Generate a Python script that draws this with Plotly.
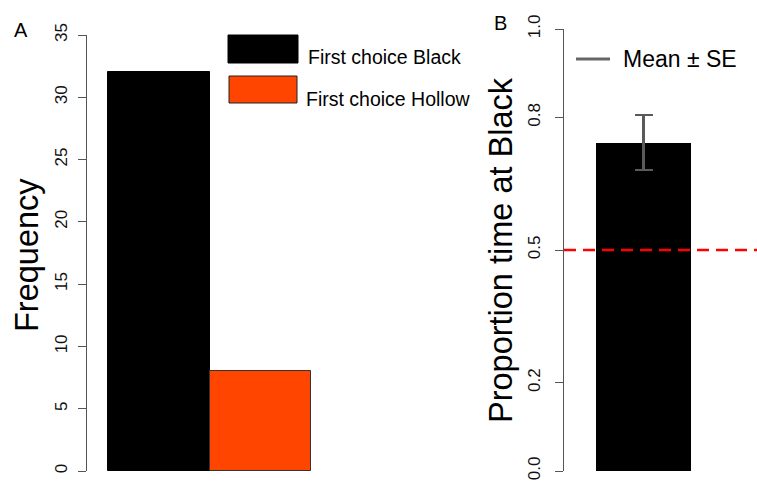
import plotly.graph_objects as go

W, H = 757, 481

# ---- data ----
choice_categories = ["First choice Black", "First choice Hollow"]
choice_counts = [32, 8]
choice_colors = ["#000000", "#FF4500"]

prop_category = ["Black"]
prop_mean = [0.743]
prop_se = [0.062]
chance_level = 0.5

freq_ticks = [0, 5, 10, 15, 20, 25, 30, 35]
prop_ticks = [0.0, 0.2, 0.5, 0.8, 1.0]
prop_ticklabels = ["0.0", "0.2", "0.5", "0.8", "1.0"]


def px(x):
    return x / W


def py(y):
    return 1 - y / H


FONT = "Liberation Sans, Arial, Helvetica, sans-serif"
AXC = "#555555"

fig = go.Figure()

fig.add_trace(go.Bar(
    x=[1, 2], y=choice_counts, width=[1, 1],
    marker=dict(color=choice_colors, line=dict(color=["#000000", "#333333"], width=1)),
    xaxis="x", yaxis="y", showlegend=False,
    hovertext=choice_categories,
))

fig.add_trace(go.Bar(
    x=[1], y=prop_mean, width=[1],
    marker=dict(color="#000000", line=dict(width=0)),
    error_y=dict(type="data", array=prop_se, visible=True, color="#5a5a5a", thickness=2.5, width=9),
    xaxis="x2", yaxis="y2", showlegend=False,
    hovertext=prop_category,
))

hidden_x = dict(showline=False, showticklabels=False, showgrid=False, zeroline=False, ticks="",
                fixedrange=True, automargin=False)

fig.update_layout(
    width=W, height=H,
    autosize=False,
    margin=dict(l=0, r=0, t=0, b=0, pad=0),
    plot_bgcolor="white", paper_bgcolor="white",
    font=dict(family=FONT, color="#000000"),
    bargap=0,
    xaxis=dict(domain=[px(87), px(330)], range=[0.293, 2.687], **hidden_x),
    yaxis=dict(domain=[py(471), py(35)], range=[0, 35], tickvals=freq_ticks,
               showline=True, linecolor=AXC, linewidth=1, ticks="outside", ticklen=8,
               tickcolor=AXC, tickangle=-90, showgrid=False, zeroline=False, automargin=False,
               ticklabelstandoff=4,
               tickfont=dict(size=17, family=FONT, color="#111111"), anchor="x"),
    xaxis2=dict(domain=[px(564), 1], range=[0.163, 2.195], **hidden_x),
    yaxis2=dict(domain=[py(471), py(29)], range=[0, 1], tickvals=prop_ticks, ticktext=prop_ticklabels,
                showline=True, linecolor=AXC, linewidth=1, ticks="outside", ticklen=8,
                tickcolor=AXC, tickangle=-90, showgrid=False, zeroline=False, automargin=False,
                ticklabelstandoff=8,
                tickfont=dict(size=17, family=FONT, color="#111111"), anchor="x2"),
)

# chance line
fig.add_shape(type="line", xref="x2 domain", yref="y2", x0=0, x1=1, y0=chance_level, y1=chance_level,
              line=dict(color="#FF0000", width=2.5, dash="12px,7px"))

# legend A
fig.add_shape(type="rect", xref="paper", yref="paper", x0=px(228), x1=px(298), y0=py(63), y1=py(35),
              fillcolor=choice_colors[0], line=dict(color="#000000", width=1))
fig.add_shape(type="rect", xref="paper", yref="paper", x0=px(229), x1=px(297), y0=py(103), y1=py(76),
              fillcolor=choice_colors[1], line=dict(color="#222222", width=1))
fig.add_annotation(x=px(306), y=py(57), xref="paper", yref="paper", text=choice_categories[0],
                   showarrow=False, xanchor="left", yanchor="middle", font=dict(size=19.5, family=FONT))
fig.add_annotation(x=px(304), y=py(99), xref="paper", yref="paper", text=choice_categories[1],
                   showarrow=False, xanchor="left", yanchor="middle", font=dict(size=19.5, family=FONT))

# legend B
fig.add_shape(type="line", xref="paper", yref="paper", x0=px(576), x1=px(610), y0=py(59), y1=py(59),
              line=dict(color="#666666", width=3))
fig.add_annotation(x=px(621), y=py(59), xref="paper", yref="paper", text="Mean ± SE",
                   showarrow=False, xanchor="left", yanchor="middle", font=dict(size=23, family=FONT))

# axis titles and panel letters
fig.add_annotation(x=px(27), y=py(255), xref="paper", yref="paper", text="Frequency", textangle=-90,
                   showarrow=False, xanchor="center", yanchor="middle", font=dict(size=32.5, family=FONT))
fig.add_annotation(x=px(501), y=py(250), xref="paper", yref="paper", text="Proportion time at Black",
                   textangle=-90, showarrow=False, xanchor="center", yanchor="middle",
                   font=dict(size=32.5, family=FONT))
fig.add_annotation(x=px(21), y=py(30), xref="paper", yref="paper", text="A",
                   showarrow=False, xanchor="center", yanchor="middle", font=dict(size=20, family=FONT))
fig.add_annotation(x=px(500), y=py(23), xref="paper", yref="paper", text="B",
                   showarrow=False, xanchor="center", yanchor="middle", font=dict(size=20, family=FONT))

fig.write_html("out.html", post_script="document.body.style.margin='0';",
               config={"displayModeBar": False})
